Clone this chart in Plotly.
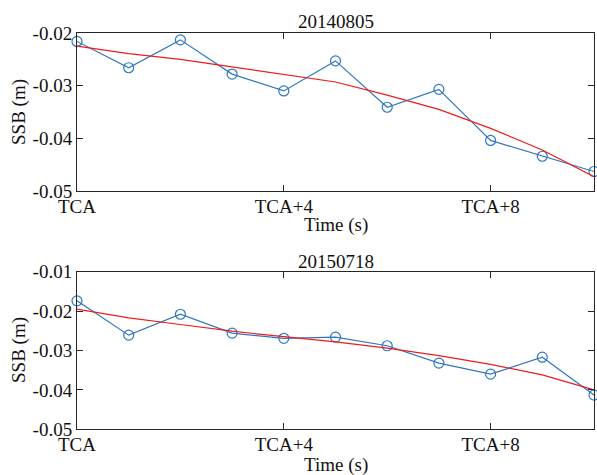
import plotly.graph_objects as go

t = list(range(11))
ssb_2014 = [-0.0216, -0.0266, -0.0213, -0.0278, -0.0310, -0.0253, -0.0341, -0.0307, -0.0404, -0.0434, -0.0463]
fit_2014 = [-0.0225, -0.0239, -0.0250, -0.0264, -0.0278, -0.0293, -0.0318, -0.0345, -0.0381, -0.0422, -0.0473]
ssb_2015 = [-0.0174, -0.0261, -0.0208, -0.0256, -0.0269, -0.0266, -0.0288, -0.0332, -0.0360, -0.0317, -0.0413]
fit_2015 = [-0.0195, -0.0217, -0.0234, -0.0251, -0.0265, -0.0278, -0.0294, -0.0313, -0.0335, -0.0362, -0.0400]

x_tickvals = [0, 4, 8]
x_ticktext = ["TCA", "TCA+4", "TCA+8"]
y1_ticks = [-0.02, -0.03, -0.04, -0.05]
y2_ticks = [-0.01, -0.02, -0.03, -0.04, -0.05]
titles = ["20140805", "20150718"]

W, H = 597, 475
BLUE = "#2f77c0"
RED = "#ee1c1c"
FONT = "Liberation Serif, Times New Roman, serif"
AX = "#262626"

fig = go.Figure()
fig.add_trace(go.Scatter(x=t, y=ssb_2014, mode="lines+markers", xaxis="x", yaxis="y",
                         line=dict(color=BLUE, width=1.2),
                         marker=dict(symbol="circle-open", size=10, color=BLUE, line=dict(width=1.2)),
                         cliponaxis=False, showlegend=False))
fig.add_trace(go.Scatter(x=t, y=fit_2014, mode="lines", xaxis="x", yaxis="y",
                         line=dict(color=RED, width=1.2), showlegend=False))
fig.add_trace(go.Scatter(x=t, y=ssb_2015, mode="lines+markers", xaxis="x2", yaxis="y2",
                         line=dict(color=BLUE, width=1.2),
                         marker=dict(symbol="circle-open", size=10, color=BLUE, line=dict(width=1.2)),
                         cliponaxis=False, showlegend=False))
fig.add_trace(go.Scatter(x=t, y=fit_2015, mode="lines", xaxis="x2", yaxis="y2",
                         line=dict(color=RED, width=1.2), showlegend=False))

xdom = [77 / W, 594 / W]
ytop = [(H - 191) / H, (H - 33) / H]
ybot = [(H - 429.3) / H, (H - 271.7) / H]

def xaxis(anchor, dom):
    return dict(domain=dom, anchor=anchor, range=[0, 10], tickmode="array",
                tickvals=x_tickvals, ticktext=x_ticktext, ticks="inside", ticklen=6,
                tickcolor=AX, showline=True, linecolor=AX, linewidth=1, mirror="ticks",
                showgrid=False, zeroline=False, automargin=False, ticklabelstandoff=-2,
                tickfont=dict(family=FONT, size=19, color="#111"))

def yaxis(anchor, dom, ticks, rng):
    return dict(domain=dom, anchor=anchor, range=rng, tickmode="array",
                tickvals=ticks, ticktext=["%.2f" % v for v in ticks], ticks="inside", ticklen=6,
                tickcolor=AX, showline=True, linecolor=AX, linewidth=1, mirror="ticks",
                showgrid=False, zeroline=False, automargin=False,
                tickfont=dict(family=FONT, size=19, color="#111"))

ann = []
def add_text(txt, px, py, angle=0):
    ann.append(dict(text=txt, x=px / W, y=1 - py / H, xref="paper", yref="paper",
                    showarrow=False, xanchor="center", yanchor="middle", textangle=angle,
                    font=dict(family=FONT, size=19, color="#111")))

add_text(titles[0], 335.5, 21)
add_text(titles[1], 335.5, 261)
add_text("Time (s)", 335.5, 225)
add_text("Time (s)", 335.5, 465)
add_text("SSB (m)", 19, 112, -90)
add_text("SSB (m)", 19, 350, -90)

fig.update_layout(
    template="none",
    width=W, height=H, margin=dict(l=0, r=0, t=0, b=0, autoexpand=False),
    paper_bgcolor="white", plot_bgcolor="white",
    xaxis=xaxis("y", xdom), yaxis=yaxis("x", ytop, y1_ticks, [-0.05, -0.02]),
    xaxis2=xaxis("y2", xdom), yaxis2=yaxis("x2", ybot, y2_ticks, [-0.05, -0.01]),
    annotations=ann, font=dict(family=FONT),
)
fig.write_html("out.html", config={"displayModeBar": False},
               post_script="document.body.style.margin='0';document.body.style.overflow='hidden';")
